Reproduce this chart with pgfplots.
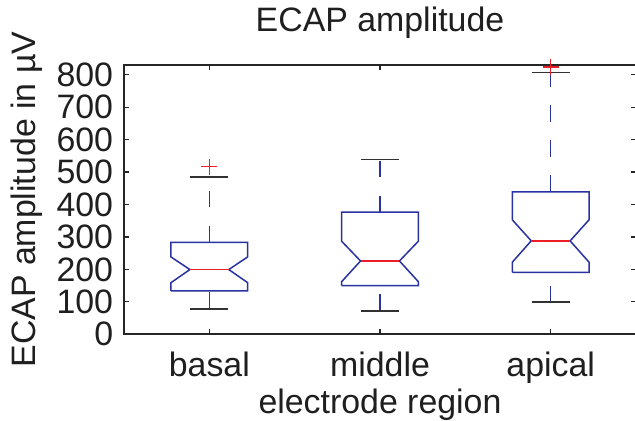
\documentclass[border=0pt]{standalone}
\usepackage{pgfplots}
\pgfplotsset{compat=1.18}
\usepackage{fontspec}
\setmainfont{Liberation Sans}
\definecolor{boxblue}{RGB}{40,50,160}
\definecolor{medred}{RGB}{235,30,40}
\definecolor{capgray}{RGB}{50,50,50}
\newcommand{\bigf}{\fontsize{34}{40}\selectfont}
\begin{document}
\begin{tikzpicture}
\begin{axis}[
  scale only axis, width=512bp, height=269.3bp,
  xmin=0.5, xmax=3.5, ymin=0, ymax=830,
  xtick={1,2,3}, xticklabels={basal,middle,apical},
  ytick={0,100,200,300,400,500,600,700,800},
  tick align=inside, tick pos=both, major tick length=5bp,
  axis line style={line width=1.8bp, black!85},
  every tick/.style={line width=1.2bp, black!85},
  /pgf/number format/assume math mode=true,
  clip=false,
  tick label style={font=\bigf, text=black!88},
  xticklabel style={anchor=base, inner sep=0pt, yshift=-42.4bp},
  yticklabel style={anchor=east, inner sep=0pt, xshift=-10.7bp},
  title={ECAP amplitude},
  title style={font=\bigf, text=black!88, anchor=base, inner sep=0pt, at={(0.5,1.1014)}},
  xlabel={electrode region},
  xlabel style={font=\bigf, text=black!88, anchor=base, inner sep=0pt, at={(0.5,-0.2934)}},
  ylabel={ECAP amplitude in µV},
  ylabel style={font=\bigf, text=black!88, anchor=base, inner sep=0pt, at={(-0.1719,0.5)}},
]
\coordinate (sw) at (rel axis cs:0,0);
\coordinate (ne) at (rel axis cs:1,1);
% whiskers (dashed)
\addplot[boxblue, line width=1.5bp, dash pattern=on 16.5bp off 18.5bp] coordinates {(1,78) (1,133.6)};
\addplot[boxblue, line width=1.5bp, dash pattern=on 16.5bp off 18.5bp] coordinates {(1,283) (1,485.5)};
\addplot[boxblue, line width=1.5bp, dash pattern=on 16.5bp off 18.5bp] coordinates {(2,72) (2,150)};
\addplot[boxblue, line width=1.5bp, dash pattern=on 16.5bp off 18.5bp] coordinates {(2,376.5) (2,538)};
\addplot[boxblue, line width=1.5bp, dash pattern=on 16.5bp off 18.5bp] coordinates {(3,98.8) (3,191)};
\addplot[boxblue, line width=1.5bp, dash pattern=on 16.5bp off 18.5bp] coordinates {(3,439) (3,807.4)};
% caps
\addplot[capgray, line width=1.5bp] coordinates {(0.888,78) (1.112,78)};
\addplot[capgray, line width=1.5bp] coordinates {(0.888,485.5) (1.112,485.5)};
\addplot[capgray, line width=1.5bp] coordinates {(1.888,72) (2.112,72)};
\addplot[capgray, line width=1.5bp] coordinates {(1.888,538) (2.112,538)};
\addplot[capgray, line width=1.5bp] coordinates {(2.888,98.8) (3.112,98.8)};
\addplot[capgray, line width=1.5bp] coordinates {(2.888,807.4) (3.112,807.4)};
% notched boxes
\addplot[boxblue, line width=1.5bp, line join=miter] coordinates {(0.775,133.6) (0.775,159) (0.886,199.5) (0.775,238.6) (0.775,283) (1.225,283) (1.225,238.6) (1.114,199.5) (1.225,159) (1.225,133.6) (0.775,133.6)};
\addplot[boxblue, line width=1.5bp, line join=miter] coordinates {(1.775,150) (1.775,162) (1.886,226) (1.775,287) (1.775,376.5) (2.225,376.5) (2.225,287) (2.114,226) (2.225,162) (2.225,150) (1.775,150)};
\addplot[boxblue, line width=1.5bp, line join=miter] coordinates {(2.775,191) (2.775,222) (2.886,288) (2.775,352.8) (2.775,439) (3.225,439) (3.225,352.8) (3.114,288) (3.225,222) (3.225,191) (2.775,191)};
% medians
\addplot[medred, line width=1.5bp] coordinates {(0.886,199.5) (1.114,199.5)};
\addplot[medred, line width=1.5bp] coordinates {(1.886,226) (2.114,226)};
\addplot[medred, line width=1.5bp] coordinates {(2.886,288) (3.114,288)};
% outliers
\addplot[only marks, mark=+, mark size=8bp, medred, line width=1.3bp] coordinates {(1,517) (3,824)};
\end{axis}
\pgfresetboundingbox
\path[use as bounding box] ([shift={(-124bp,-86.7bp)}]sw) rectangle ([shift={(-1bp,65bp)}]ne);
\end{tikzpicture}
\end{document}
